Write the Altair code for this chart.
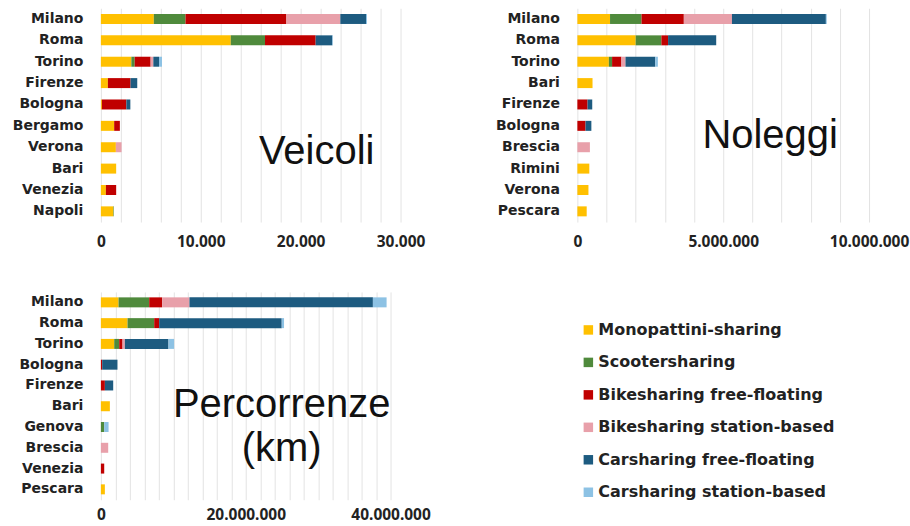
import altair as alt
import pandas as pd

series = ["Monopattini-sharing", "Scootersharing", "Bikesharing free-floating",
          "Bikesharing station-based", "Carsharing free-floating", "Carsharing station-based"]
colors = ["#FFC000", "#4F8A3C", "#C00000", "#E8A0AA", "#1D5B80", "#8DC2E4"]

# Veicoli
veicoli_cities = ["Milano", "Roma", "Torino", "Firenze", "Bologna", "Bergamo", "Verona", "Bari", "Venezia", "Napoli"]
veicoli_mono = [5300, 13000, 3050, 700, 100, 1330, 1500, 1530, 500, 1250]
veicoli_scooter = [3170, 3430, 330, 0, 0, 0, 0, 0, 0, 50]
veicoli_bike_ff = [10100, 5070, 1600, 2270, 2450, 570, 0, 0, 1030, 0]
veicoli_bike_sb = [5400, 0, 270, 0, 0, 0, 570, 0, 0, 0]
veicoli_car_ff = [2570, 1670, 570, 670, 400, 0, 0, 0, 0, 0]
veicoli_car_sb = [100, 60, 300, 0, 0, 0, 0, 0, 0, 0]

# Noleggi
noleggi_cities = ["Milano", "Roma", "Torino", "Bari", "Firenze", "Bologna", "Brescia", "Rimini", "Verona", "Pescara"]
noleggi_mono = [1120000, 2000000, 1080000, 520000, 0, 0, 0, 410000, 380000, 320000]
noleggi_scooter = [1080000, 880000, 110000, 0, 0, 0, 0, 0, 0, 0]
noleggi_bike_ff = [1450000, 230000, 320000, 0, 350000, 280000, 0, 0, 0, 0]
noleggi_bike_sb = [1650000, 0, 140000, 0, 0, 0, 430000, 0, 0, 0]
noleggi_car_ff = [3220000, 1650000, 1020000, 0, 160000, 200000, 0, 0, 0, 0]
noleggi_car_sb = [30000, 0, 90000, 0, 0, 0, 0, 0, 0, 0]

# Percorrenze (km)
perc_cities = ["Milano", "Roma", "Torino", "Bologna", "Firenze", "Bari", "Genova", "Brescia", "Venezia", "Pescara"]
perc_mono = [2440000, 3680000, 1840000, 0, 0, 1240000, 0, 0, 0, 550000]
perc_scooter = [4230000, 3680000, 690000, 0, 0, 0, 460000, 0, 0, 0]
perc_bike_ff = [1790000, 690000, 460000, 180000, 550000, 0, 0, 0, 460000, 0]
perc_bike_sb = [3770000, 0, 320000, 0, 0, 0, 0, 1010000, 0, 0]
perc_car_ff = [25330000, 16920000, 6020000, 2110000, 1150000, 0, 0, 0, 0, 0]
perc_car_sb = [1890000, 320000, 780000, 0, 0, 0, 600000, 0, 0, 0]

LABEL_FONT = "DejaVu Sans"
TICK_FONT = "Noto Sans"
TITLE_FONT = "Liberation Sans"


def to_long(cities, cols):
    rows = []
    for i, c in enumerate(cities):
        for j, s in enumerate(series):
            v = cols[j][i]
            if v > 0:
                rows.append({"city": c, "series": s, "value": v, "k": j})
    return pd.DataFrame(rows)


color_enc = alt.Color(
    "series:N",
    scale=alt.Scale(domain=series, range=colors),
    legend=alt.Legend(
        title=None, orient="none", legendX=480, legendY=314,
        symbolType="square", symbolSize=90, symbolStrokeWidth=0,
        labelFont=LABEL_FONT, labelFontSize=16, labelFontWeight="bold", labelColor="#222222",
        rowPadding=16.5, labelOffset=2, labelLimit=300,
    ),
)


def panel(df, cities, maxv, grid_step, label_step, w, h, lines, tx, ty, fs, xpad):
    label_expr = (f"datum.value % {label_step} == 0 ? "
                  "replace(format(datum.value, ','), /,/g, '.') : ''")
    bars = alt.Chart(df).mark_bar(size=10).encode(
        x=alt.X("value:Q", stack="zero",
                scale=alt.Scale(domain=[0, maxv], nice=False, zero=True),
                axis=alt.Axis(title=None, values=list(range(0, maxv + 1, grid_step)),
                              labelExpr=label_expr, grid=True, gridColor="#e3e3e3",
                              domain=False, ticks=False, labelFont=TICK_FONT,
                              labelFontSize=15.5, labelFontWeight="bold", labelColor="#222222",
                              labelPadding=xpad, labelFlush=False, labelOverlap=False)),
        y=alt.Y("city:N", sort=cities,
                scale=alt.Scale(paddingInner=0.5, paddingOuter=0.25),
                axis=alt.Axis(title=None, domain=False, ticks=False, grid=False,
                              labelFont=LABEL_FONT, labelFontSize=14, labelFontWeight="bold",
                              labelColor="#222222", labelPadding=18)),
        color=color_enc,
        order=alt.Order("k:Q", sort="ascending"),
    )
    text = alt.Chart(pd.DataFrame({"t": ["".join(lines)]})).mark_text(
        text=lines, font=TITLE_FONT, fontSize=fs, fontWeight="normal",
        color="#111111", align="center", baseline="middle", lineHeight=44,
    ).encode(x=alt.value(tx), y=alt.value(ty))
    return alt.layer(bars, text).properties(width=w, height=h)


p1 = panel(to_long(veicoli_cities, [veicoli_mono, veicoli_scooter, veicoli_bike_ff,
                                   veicoli_bike_sb, veicoli_car_ff, veicoli_car_sb]),
           veicoli_cities, 30000, 2000, 10000, 300, 214, ["Veicoli"], 216, 144, 40, 12)
p2 = panel(to_long(noleggi_cities, [noleggi_mono, noleggi_scooter, noleggi_bike_ff,
                                   noleggi_bike_sb, noleggi_car_ff, noleggi_car_sb]),
           noleggi_cities, 10000000, 1000000, 5000000, 292, 214, ["Noleggi"], 193, 128, 40, 12)
p3 = panel(to_long(perc_cities, [perc_mono, perc_scooter, perc_bike_ff,
                                perc_bike_sb, perc_car_ff, perc_car_sb]),
           perc_cities, 40000000, 2000000, 20000000, 290, 208, ["Percorrenze", "(km)"], 181, 113, 40, 8)

top = alt.hconcat(p1, p2, spacing=69)
chart = alt.vconcat(top, p3, spacing=42).properties(
    padding={"left": 12, "top": 8, "right": 1, "bottom": 0},
    background="white",
).configure_view(stroke=None)

chart.save("out.html", embed_options={"renderer": "svg", "actions": False})
